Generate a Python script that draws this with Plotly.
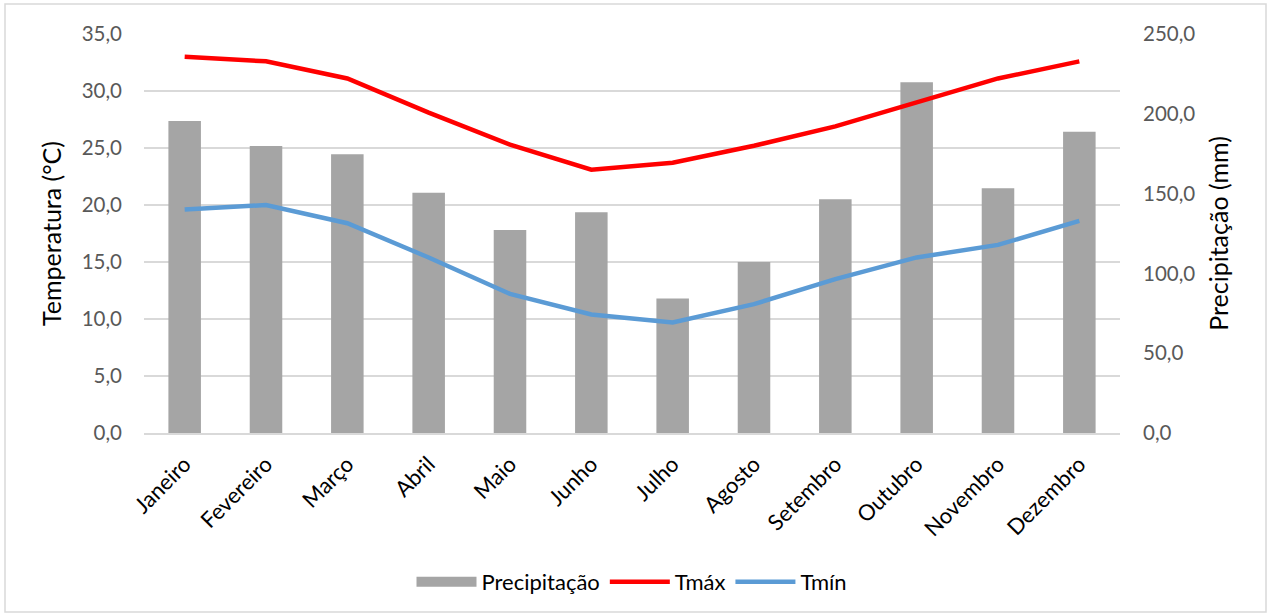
import plotly.graph_objects as go

meses = ["Janeiro", "Fevereiro", "Março", "Abril", "Maio", "Junho",
         "Julho", "Agosto", "Setembro", "Outubro", "Novembro", "Dezembro"]
precipitacao = [195.5, 179.8, 174.6, 150.6, 127.2, 138.3, 84.2, 107.1, 146.4, 219.7, 153.3, 188.8]
tmax = [33.0, 32.6, 31.1, 28.1, 25.3, 23.1, 23.7, 25.2, 26.9, 29.0, 31.1, 32.6]
tmin = [19.6, 20.0, 18.4, 15.4, 12.2, 10.4, 9.7, 11.3, 13.5, 15.4, 16.5, 18.6]

W, H = 1268, 616
ML, MR, MT, MB = 144, 148, 34, 183
FONT = "Lato"
GRAY = "#A5A5A5"

fig = go.Figure()
# bars on the primary (right-side) axis so the temperature lines draw on top
fig.add_trace(go.Bar(x=meses, y=precipitacao, name="Precipitação", yaxis="y",
                     marker=dict(color=GRAY, line=dict(width=0)), showlegend=False,
                     legendgroup="p"))
# legend entry for the bars drawn as a wide, thick swatch (no data points)
fig.add_trace(go.Scatter(x=[None], y=[None], name="Precipitação", mode="lines",
                         line=dict(color=GRAY, width=14), legendgroup="p"))
fig.add_trace(go.Scatter(x=meses, y=tmax, name="Tmáx", mode="lines", yaxis="y2",
                         line=dict(color="#FF0000", width=4.5)))
fig.add_trace(go.Scatter(x=meses, y=tmin, name="Tmín", mode="lines", yaxis="y2",
                         line=dict(color="#5B9BD5", width=4.5)))

pw = W - ML - MR
ph = H - MT - MB
def px(x):
    return (x - ML) / pw
def py(y):
    return 1 - (y - MT) / ph

fig.update_layout(
    width=W, height=H,
    margin=dict(l=ML, r=MR, t=MT, b=MB),
    paper_bgcolor="white", plot_bgcolor="white",
    separators=", ",
    bargap=0.6,
    font=dict(family=FONT, size=20, color="#595959"),
    xaxis=dict(tickangle=-45, tickfont=dict(size=22, color="#000000"),
               showgrid=False, showline=True, linecolor="#D9D9D9", linewidth=1.5,
               ticks="", ticklabelstandoff=8),
    yaxis=dict(range=[0, 250], dtick=50, tickformat=".1f", side="right",
               title=dict(text="Precipitação (mm)", font=dict(size=25, color="#000000"), standoff=16),
               showgrid=False, zeroline=False,
               tickfont=dict(size=20.5, color="#595959"), ticks="", ticklabelstandoff=22),
    yaxis2=dict(range=[0, 35], dtick=5, tickformat=".1f", overlaying="y", side="left",
                title=dict(text="Temperatura (°C)", font=dict(size=25, color="#000000"), standoff=12),
                showgrid=True, gridcolor="#D9D9D9", gridwidth=1.5, zeroline=False,
                tickfont=dict(size=20.5, color="#595959"), ticks="", ticklabelstandoff=21),
    legend=dict(orientation="h", x=0.5, xanchor="center", y=py(582), yanchor="middle",
                font=dict(size=22, color="#000000"), traceorder="normal",
                itemwidth=60, itemclick=False, itemdoubleclick=False),
    showlegend=True,
    shapes=[dict(type="rect", xref="paper", yref="paper",
                 x0=px(5), x1=px(1266), y0=py(612), y1=py(4),
                 line=dict(color="#D9D9D9", width=1.5), fillcolor="rgba(0,0,0,0)",
                 layer="below")],
)

fig.write_html("out.html")
